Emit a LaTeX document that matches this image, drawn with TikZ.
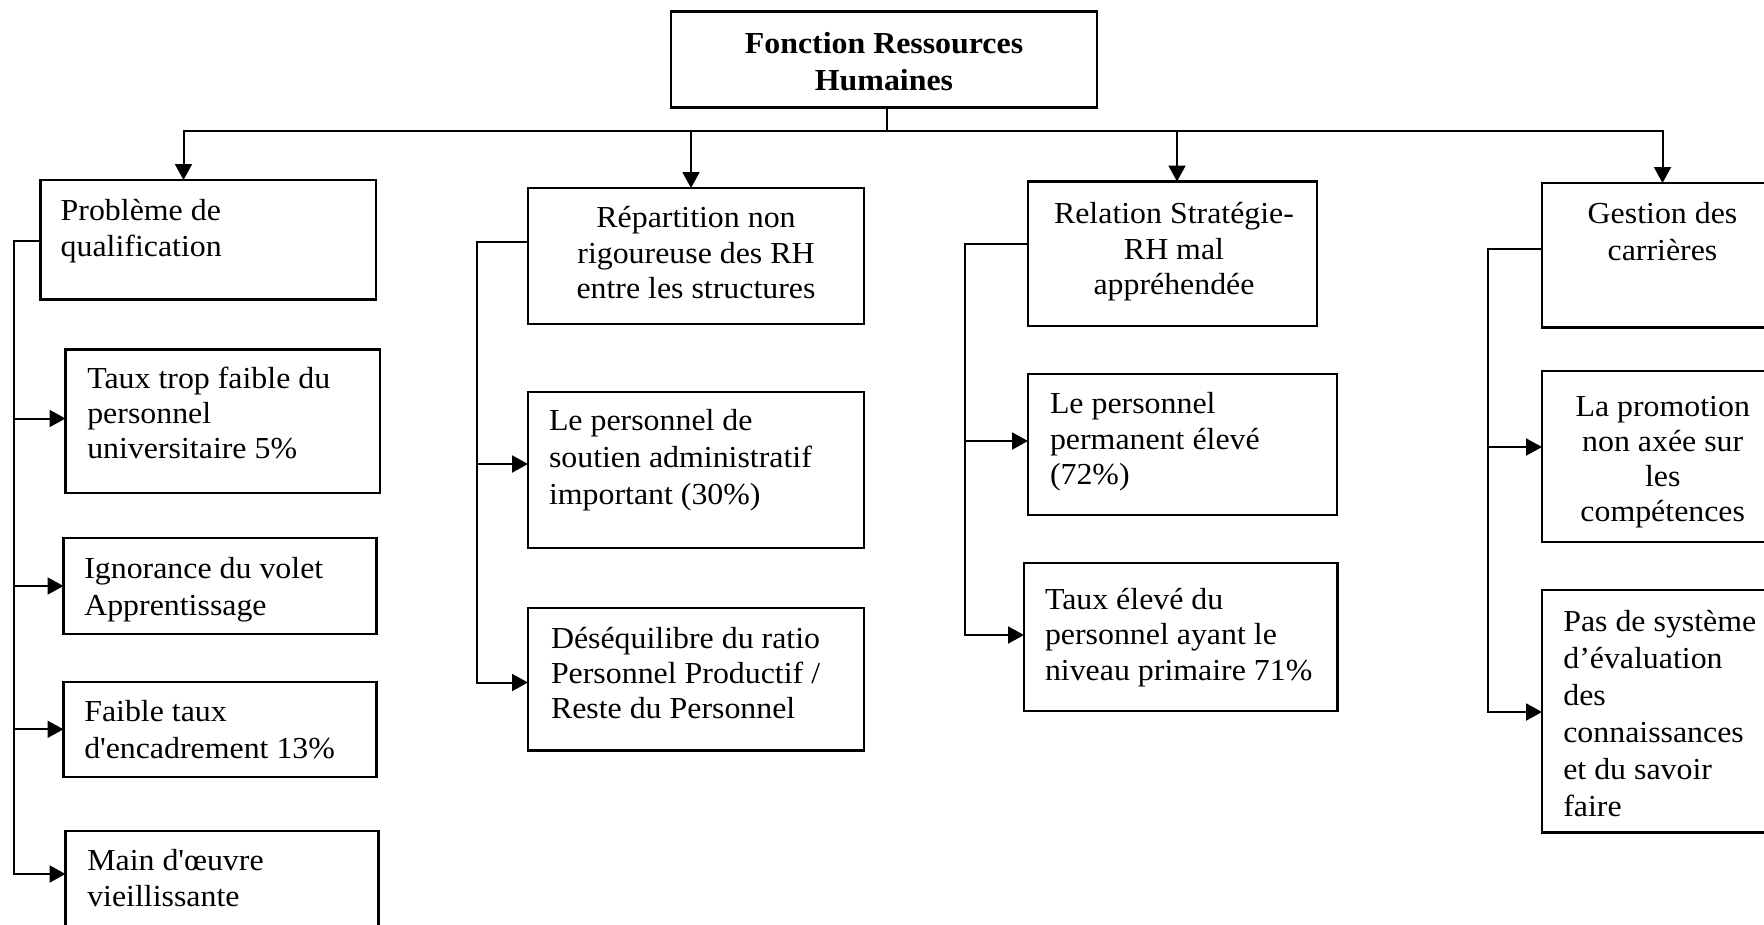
\documentclass[tikz,border=0pt]{standalone}
\usepackage{fontspec}
\setmainfont{Liberation Serif}[FakeStretch=1.045]
\usetikzlibrary{arrows.meta}

\tikzset{
  box/.style={draw, line width=2.2pt, inner sep=0pt, outer sep=0pt, anchor=north west},
  link/.style={line width=2pt},
  thinlink/.style={line width=1.4pt},
  arr/.style={link, -{Triangle[length=16pt,width=17pt]}},
  txt/.style={inner sep=0pt, outer sep=0pt, font=\fontsize{30.5}{36}\selectfont},
  boldtxt/.style={txt, font=\fontsize{30.5}{36}\selectfont\bfseries},
}

% lines of a box: name, x, first baseline, line spacing, lines
\newcommand\leftlines[5]{%
  \foreach \txtline [count=\i] in {#5}{%
    \node[txt, anchor=base west] (#1-\i) at ({#2}, {#3+(\i-1)*#4}) {\txtline};}}
\newcommand\midlines[5]{%
  \foreach \txtline [count=\i] in {#5}{%
    \node[txt, anchor=base] (#1-\i) at ({#2}, {#3+(\i-1)*#4}) {\txtline};}}

\begin{document}
\begin{tikzpicture}[x=1pt, y=-1pt]
  \useasboundingbox (0,0) rectangle (1764,924);
  \fill[white] (0,0) rectangle (1764,924);
  \clip (0,0) rectangle (1764,924);

  % ---------- boxes ----------
  \node[box, minimum width=426pt,   minimum height=96pt]    (top) at (671,11.5)   {};
  \node[box, minimum width=335.5pt, minimum height=119.5pt] (b1)  at (40.5,180)   {};
  \node[box, minimum width=336pt,   minimum height=136pt]   (b2)  at (528,188)    {};
  \node[box, minimum width=289pt,   minimum height=144.5pt] (b3)  at (1028,181.5) {};
  \node[box, minimum width=241pt,   minimum height=144.5pt] (b4)  at (1542,183)   {};

  \node[box, minimum width=314.5pt, minimum height=143.5pt] (a1) at (65.5,349.5) {};
  \node[box, minimum width=313pt,   minimum height=96pt]    (a2) at (63.5,537.7) {};
  \node[box, minimum width=313pt,   minimum height=95pt]    (a3) at (63.5,682)   {};
  \node[box, minimum width=313pt,   minimum height=120pt]   (a4) at (65.5,830.7) {};

  \node[box, minimum width=336pt,   minimum height=156pt]   (p2) at (528,392) {};
  \node[box, minimum width=336pt,   minimum height=142.5pt] (p3) at (528,608) {};

  \node[box, minimum width=309pt,   minimum height=141pt]   (c2) at (1028,374) {};
  \node[box, minimum width=313.5pt, minimum height=148pt]   (c3) at (1024,563) {};

  \node[box, minimum width=241pt,   minimum height=171pt]   (d2) at (1542,371) {};
  \node[box, minimum width=241pt,   minimum height=242.5pt] (d3) at (1542,590) {};

  % ---------- texts ----------
  \foreach \txtline [count=\i] in {Fonction Ressources, Humaines}{%
    \node[boldtxt, anchor=base] (top-\i) at (884, {53.3+(\i-1)*36.7}) {\txtline};}

  \leftlines{b1}{60.7}{220.7}{35.3}{Problème de, qualification}
  \midlines{b2}{696}{227.7}{35.6}{Répartition non, rigoureuse des RH, entre les structures}
  \midlines{b3}{1174}{223.3}{35.8}{Relation Stratégie-, RH mal, appréhendée}
  \midlines{b4}{1662.5}{223.3}{36.7}{Gestion des, carrières}

  \leftlines{a1}{87.3}{388.3}{35}{Taux trop faible du, personnel, universitaire 5\%}
  \leftlines{a2}{84.3}{578.3}{36.7}{Ignorance du volet, Apprentissage}
  \leftlines{a3}{84.3}{721.7}{36.6}{Faible taux, d\textquotesingle encadrement 13\%}
  \leftlines{a4}{87.3}{870}{36.7}{Main d\textquotesingle œuvre, vieillissante}

  \leftlines{p2}{549}{430}{37}{Le personnel de, soutien administratif, important (30\%)}
  \leftlines{p3}{551}{648.3}{35}{Déséquilibre du ratio, Personnel Productif /, Reste du Personnel}

  \leftlines{c2}{1050}{413.3}{35.8}{Le personnel, permanent élevé, (72\%)}
  \leftlines{c3}{1045}{609}{35.5}{Taux élevé du, personnel ayant le, niveau primaire 71\%}

  \midlines{d2}{1662.7}{416.7}{35}{La promotion, non axée sur, les, compétences}
  \leftlines{d3}{1563.3}{631.7}{36.9}{Pas de système, d’évaluation, des, connaissances, et du savoir, faire}

  % ---------- top distribution ----------
  \coordinate (tb) at (887,131);
  \coordinate (t1) at (183.5,131);
  \coordinate (t2) at (691,131);
  \coordinate (t3) at (1177,131);
  \coordinate (t4) at (1662.5,131);
  \draw[thinlink] (tb |- top.south) -- (tb);
  \draw[arr] (t3) -- (t1) -- (t1 |- b1.north);
  \draw[arr] (t1) -- (t4) -- (t4 |- b4.north);
  \draw[arr] (t2) -- (t2 |- b2.north);
  \draw[arr] (t3) -- (t3 |- b3.north);

  % ---------- column 1 ----------
  \coordinate (h1) at (14,241);
  \coordinate (k11) at (14,418.5);
  \coordinate (k12) at (14,586);
  \coordinate (k13) at (14,729.3);
  \coordinate (k14) at (14,874);
  \draw[arr] (h1 -| b1.west) -- (h1) |- (k14 -| a4.west);
  \draw[arr] (k11) -- (k11 -| a1.west);
  \draw[arr] (k12) -- (k12 -| a2.west);
  \draw[arr] (k13) -- (k13 -| a3.west);

  % ---------- column 2 ----------
  \coordinate (h2) at (476.5,241.7);
  \coordinate (k21) at (476.5,464);
  \coordinate (k22) at (476.5,682.5);
  \draw[arr] (h2 -| b2.west) -- (h2) |- (k22 -| p3.west);
  \draw[arr] (k21) -- (k21 -| p2.west);

  % ---------- column 3 ----------
  \coordinate (h3) at (964.5,244);
  \coordinate (k31) at (964.5,441);
  \coordinate (k32) at (964.5,635);
  \draw[arr] (h3 -| b3.west) -- (h3) |- (k32 -| c3.west);
  \draw[arr] (k31) -- (k31 -| c2.west);

  % ---------- column 4 ----------
  \coordinate (h4) at (1488,249);
  \coordinate (k41) at (1488,447);
  \coordinate (k42) at (1488,712);
  \draw[arr] (h4 -| b4.west) -- (h4) |- (k42 -| d3.west);
  \draw[arr] (k41) -- (k41 -| d2.west);
\end{tikzpicture}
\end{document}
